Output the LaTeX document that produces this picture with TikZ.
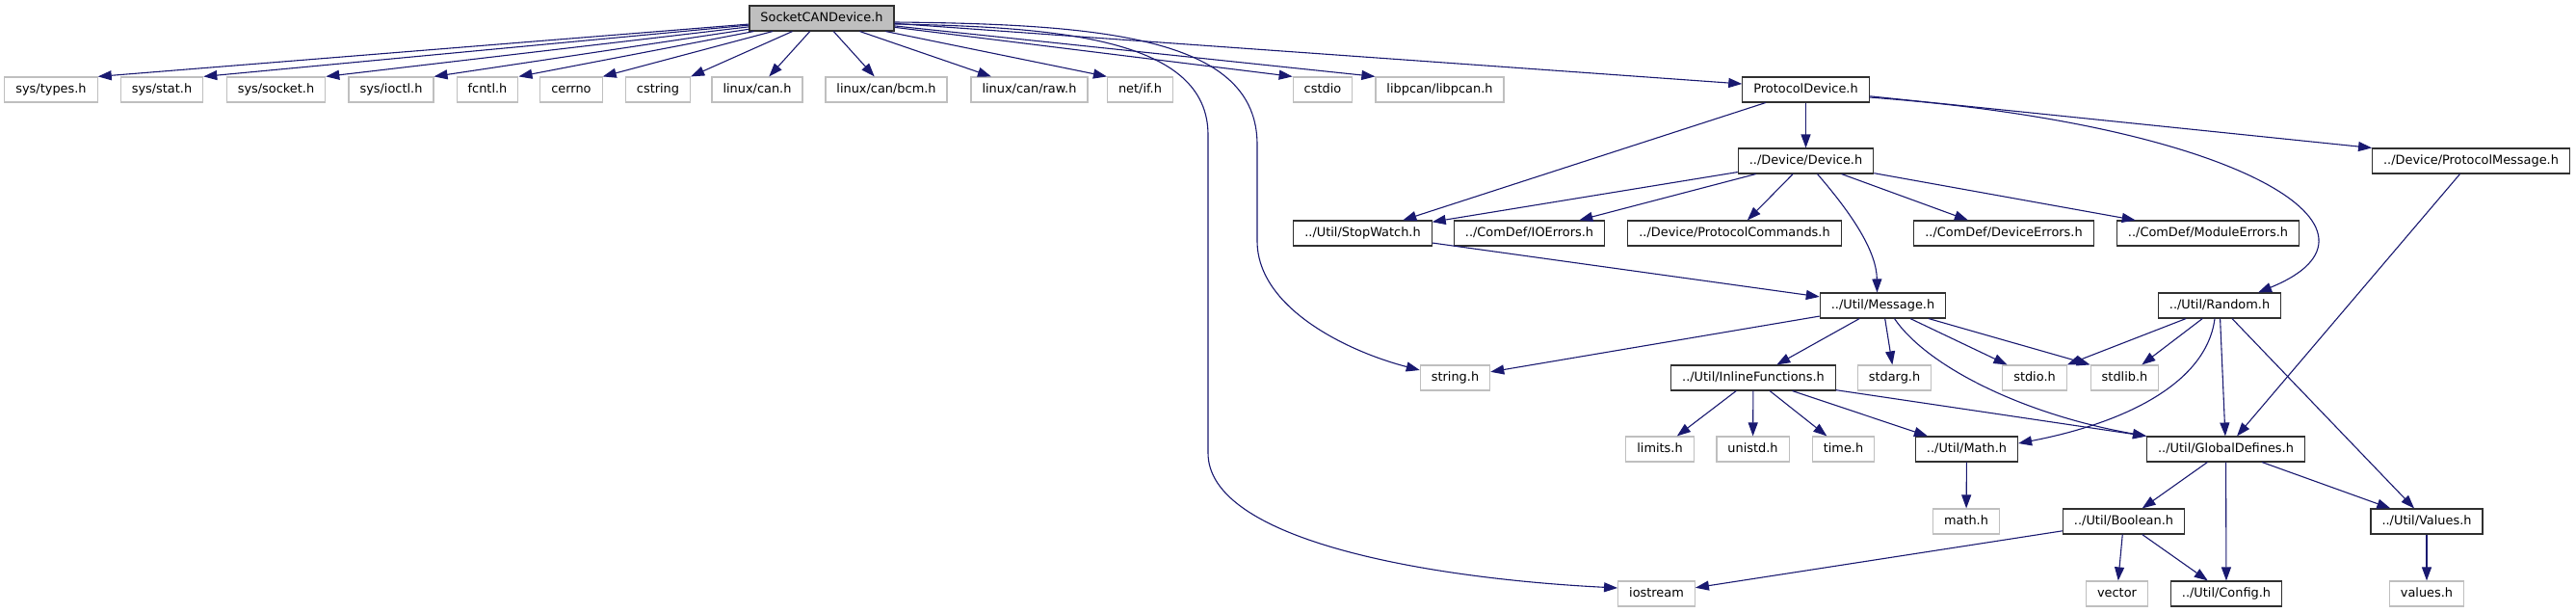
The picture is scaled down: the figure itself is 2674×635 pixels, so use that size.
\documentclass[tikz,border=0pt]{standalone}
\usepackage{fontspec}
\setmainfont{DejaVu Sans}
\usetikzlibrary{arrows.meta}
\definecolor{edgeblue}{HTML}{191970}
\definecolor{grayline}{HTML}{BFBFBF}
\definecolor{darkline}{HTML}{303030}
\begin{document}
\begin{tikzpicture}[x=1pt,y=-1pt,
  base/.style={rectangle, minimum height=26pt, inner xsep=11.5pt, inner ysep=0pt,
    font=\fontsize{12.9}{15}\selectfont, text height=9.6pt, text depth=2.6pt},
  sysf/.style={base, draw=grayline, line width=1.2pt},
  proj/.style={base, draw=darkline, line width=1.1pt},
  rootn/.style={base, draw=darkline, fill=grayline, line width=1.1pt},
  e/.style={draw=edgeblue, line width=1.1pt, -{Triangle[length=14pt,width=10pt]}}]
\useasboundingbox (0,0) rectangle (2674,635);

% nodes
\node[rootn] (root) at (853,19) {SocketCANDevice.h};
\node[sysf] (types) at (53,93) {sys/types.h};
\node[sysf] (stat) at (168,93) {sys/stat.h};
\node[sysf] (socket) at (286.5,93) {sys/socket.h};
\node[sysf] (ioctl) at (406,93) {sys/ioctl.h};
\node[sysf] (fcntl) at (506,93) {fcntl.h};
\node[sysf] (cerrno) at (593,93) {cerrno};
\node[sysf] (cstring) at (683,93) {cstring};
\node[sysf] (lcan) at (786,93) {linux/can.h};
\node[sysf] (bcm) at (920,93) {linux/can/bcm.h};
\node[sysf] (raw) at (1068.5,93) {linux/can/raw.h};
\node[sysf] (netif) at (1183.5,93) {net/if.h};
\node[sysf] (cstdio) at (1373,93) {cstdio};
\node[sysf] (libpcan) at (1494.5,93) {libpcan/libpcan.h};
\node[proj] (pdev) at (1874.5,93) {ProtocolDevice.h};
\node[proj] (dev) at (1874.5,167) {../Device/Device.h};
\node[proj] (pmsg) at (2565,167) {../Device/ProtocolMessage.h};
\node[proj] (sw) at (1414.5,242) {../Util/StopWatch.h};
\node[proj] (ioerr) at (1587.5,242) {../ComDef/IOErrors.h};
\node[proj] (pcmd) at (1800.5,242) {../Device/ProtocolCommands.h};
\node[proj] (deverr) at (2080,242) {../ComDef/DeviceErrors.h};
\node[proj] (moderr) at (2292,242) {../ComDef/ModuleErrors.h};
\node[proj] (msg) at (1954.5,317) {../Util/Message.h};
\node[proj] (rand) at (2304,317) {../Util/Random.h};
\node[sysf] (strh) at (1510.5,392) {string.h};
\node[proj] (inl) at (1820,392) {../Util/InlineFunctions.h};
\node[sysf] (stdarg) at (1966.5,392) {stdarg.h};
\node[sysf] (stdio) at (2112,392) {stdio.h};
\node[sysf] (stdlib) at (2205.5,392) {stdlib.h};
\node[sysf] (limits) at (1723,466) {limits.h};
\node[sysf] (unistd) at (1819.5,466) {unistd.h};
\node[sysf] (timeh) at (1913.5,466) {time.h};
\node[proj] (mathu) at (2041.5,466) {../Util/Math.h};
\node[proj] (glob) at (2310.5,466) {../Util/GlobalDefines.h};
\node[sysf] (mathh) at (2041,541) {math.h};
\node[proj] (bool) at (2204.5,541) {../Util/Boolean.h};
\node[proj] (vals) at (2519,541) {../Util/Values.h};
\node[sysf] (iostr) at (1719.5,616) {iostream};
\node[sysf] (vect) at (2197.5,616) {vector};
\node[proj] (conf) at (2311,616) {../Util/Config.h};
\node[sysf] (valsh) at (2519,616) {values.h};

% edges from root
\draw[e] (root) -- (types.north east);
\draw[e] (root) -- (stat.north east);
\draw[e] (root) -- (socket.north east);
\draw[e] (root) -- (ioctl.north east);
\draw[e] (root) -- (fcntl.north east);
\draw[e] (root) -- (cerrno.north east);
\draw[e] (root) -- (cstring.north east);
\draw[e] (root) -- (lcan);
\draw[e] (root) -- (bcm);
\draw[e] (root) -- (raw);
\draw[e] (root) -- (netif.north west);
\draw[e] (root) -- (cstdio.north west);
\draw[e] (root) -- (libpcan.north west);
\draw[e] (root) -- ([yshift=6pt]pdev.west);
\draw[e] ([yshift=-4pt]root.east) .. controls (1150,25) and (1305,40) .. (1305,150)
  -- (1305,250) .. controls (1305,320) and (1400,365) .. ([yshift=8pt]strh.west);
\draw[e] ([yshift=-6pt]root.east) .. controls (1100,28) and (1254,40) .. (1254,140)
  -- (1254,470) .. controls (1254,560) and (1480,600) .. ([yshift=6pt]iostr.west);

% ProtocolDevice
\draw[e] (pdev) -- (sw);
\draw[e] (pdev) -- (dev);
\draw[e] (pdev) -- (pmsg.north west);
\draw[e] ([yshift=-8pt]pdev.east) .. controls (2330,130) and (2500,240) .. ([xshift=40pt]rand.north);

% Device.h
\draw[e] (dev) -- (sw);
\draw[e] (dev) -- (ioerr);
\draw[e] (dev) -- (pcmd);
\draw[e] (dev) -- (deverr);
\draw[e] (dev) -- (moderr);
\draw[e] ([xshift=12pt]dev.south) .. controls (1925,225) and (1948,262) .. ([xshift=-6pt]msg.north);

% ProtocolMessage
\draw[e] (pmsg) -- (glob);

% StopWatch
\draw[e] (sw) -- (msg);

% Message.h
\draw[e] (msg) -- (strh);
\draw[e] (msg) -- (inl);
\draw[e] (msg) -- (stdarg);
\draw[e] (msg) -- (stdio);
\draw[e] (msg) -- (stdlib.north west);
\draw[e] ([xshift=12pt]msg.south) .. controls (2000,380) and (2100,430) .. (glob.north west);

% Random.h
\draw[e] (rand) -- (stdio.north east);
\draw[e] (rand) -- (stdlib);
\draw[e] ([xshift=-5pt]rand.south) .. controls (2290,400) and (2200,440) .. ([yshift=6pt]mathu.east);
\draw[e] (rand) -- (glob);
\draw[e] (rand) -- (vals);

% InlineFunctions
\draw[e] (inl) -- (limits);
\draw[e] (inl) -- (unistd);
\draw[e] (inl) -- (timeh);
\draw[e] (inl) -- (mathu);
\draw[e] (inl) -- (glob.north west);

% Math, GlobalDefines, Boolean, Values
\draw[e] (mathu) -- (mathh);
\draw[e] (glob) -- (bool);
\draw[e] (glob) -- (conf);
\draw[e] (glob) -- (vals);
\draw[e] (bool) -- (iostr);
\draw[e] (bool) -- (vect);
\draw[e] (bool) -- (conf);
\draw[e] (vals) -- (valsh);
\end{tikzpicture}
\end{document}
